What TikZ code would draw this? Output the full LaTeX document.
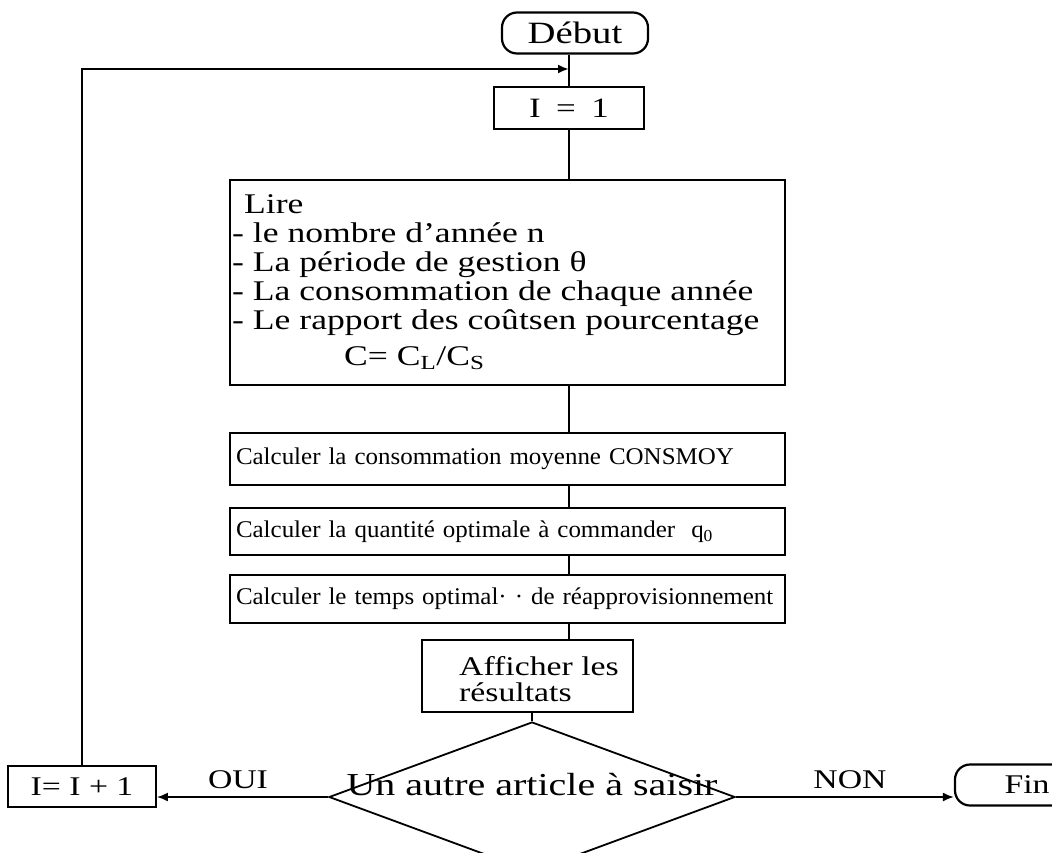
\documentclass[tikz,border=0pt]{standalone}
\usepackage{fontspec}
\setmainfont[FakeStretch=1.25]{Liberation Serif}
\newfontfamily\calcfont[FakeStretch=1.04]{Liberation Serif}
\usetikzlibrary{shapes.geometric,arrows.meta}
\begin{document}
\begin{tikzpicture}[x=1pt,y=-1pt,
  box/.style={draw, line width=1.8pt, inner sep=0pt},
  term/.style={draw, line width=2.2pt, rounded corners=15pt, inner sep=0pt,
    minimum height=41pt},
  calc/.style={box, text width=543pt, inner xsep=6pt,
    align=left, font=\calcfont\fontsize{24}{26}\selectfont},
  lbl/.style={font=\fontsize{27}{29}\selectfont, inner sep=0pt},
  conn/.style={line width=1.8pt},
  arr/.style={line width=1.8pt, -{Latex[length=11pt,width=9pt]}}]
\useasboundingbox (0,0) rectangle (1052,852);
\clip (0,0) rectangle (1052,852);
% nodes
\node[term, minimum width=146pt, font=\fontsize{31}{33}\selectfont] (deb) at (575,33) {Début};
\node[box, minimum width=150pt, minimum height=42pt, font=\fontsize{28}{30}\selectfont] (i1) at (569,108) {I\hspace{0.55em}=\hspace{0.55em}1};
\node[box, minimum width=555pt, minimum height=205pt] (lire) at (507.5,282.5) {};
\node[anchor=north west, inner sep=0pt, align=left, font=\fontsize{28.5}{29}\selectfont] (liretxt) at (232,194)
  {\hspace{12pt}Lire\\- le nombre d’année n\\- La période de gestion θ\\- La consommation de chaque année\\- Le rapport des coûtsen pourcentage\\[7pt]\hspace{112pt}C= C\textsubscript{L}/C\textsubscript{S}};
\node[calc, minimum height=52pt] (cons) at (507.5,459) {Calculer la consommation moyenne CONSMOY};
\node[calc, minimum height=47pt] (qopt) at (507.5,531.5) {Calculer la quantité optimale à commander\ \ q\textsubscript{0}};
\node[calc, minimum height=48pt] (temps) at (507.5,599) {Calculer le temps optimal· · de réapprovisionnement};
\node[box, minimum width=211pt, minimum height=72pt] (aff) at (527.5,676) {};
\node[anchor=west, inner sep=0pt, align=left, font=\fontsize{27}{26}\selectfont] (afftxt) at (459,679) {Afficher les\\résultats};
\node[diamond, draw, line width=1.8pt, minimum width=406pt, minimum height=150pt, inner sep=0pt] (d) at (532,797) {};
\node[lbl, font=\fontsize{32}{34}\selectfont] (dtxt) at (532,785) {Un autre article à saisir};
\node[box, minimum width=148pt, minimum height=41pt, font=\fontsize{27}{29}\selectfont] (inc) at (82,786.5) {I= I + 1};
\node[term, minimum width=144pt, font=\fontsize{27}{29}\selectfont] (fin) at (1027,785) {Fin};
\node[lbl] (oui) at (238,780) {OUI};
\node[lbl] (non) at (850,780) {NON};
\coordinate (join) at (569,69);
% connectors
\draw[conn] (deb.south -| i1.north) -- (i1.north);
\draw[conn] (i1.south) -- (i1.south |- lire.north);
\draw[conn] (lire.south -| i1.south) -- (cons.north -| i1.south);
\draw[conn] (cons.south -| i1.south) -- (qopt.north -| i1.south);
\draw[conn] (qopt.south -| i1.south) -- (temps.north -| i1.south);
\draw[conn] (temps.south -| i1.south) -- (aff.north -| i1.south);
\draw[conn] (aff.south -| d.north) -- (d.north);
\draw[arr, line width=2.8pt] (inc.north) |- (join);
\draw[arr] (d.west) -- (d.west -| inc.east);
\draw[arr] (d.east) -- (d.east -| fin.west);
\end{tikzpicture}
\end{document}
